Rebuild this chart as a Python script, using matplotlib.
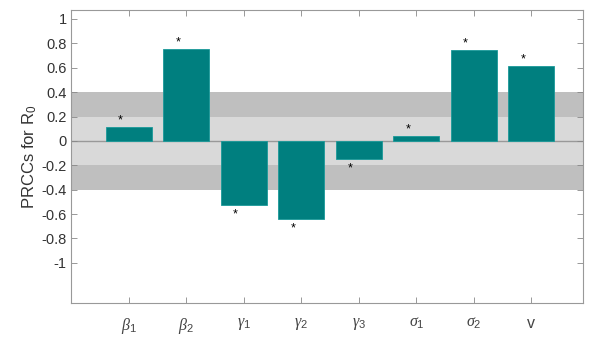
import matplotlib
matplotlib.use("Agg")
import matplotlib.pyplot as plt

params = [r'$\beta_{1}$', r'$\beta_{2}$', r'$\gamma_{1}$', r'$\gamma_{2}$', r'$\gamma_{3}$', r'$\sigma_{1}$', r'$\sigma_{2}$', 'v']
prcc = [0.117, 0.754, -0.522, -0.642, -0.145, 0.04, 0.743, 0.617]
significant = [True, True, True, True, True, True, True, True]
yticks = [-1, -0.8, -0.6, -0.4, -0.2, 0, 0.2, 0.4, 0.6, 0.8, 1]
ytick_labels = ['-1', '-0.8', '-0.6', '-0.4', '-0.2', '0', '0.2', '0.4', '0.6', '0.8', '1']

plt.rcParams['font.family'] = ['Liberation Sans', 'DejaVu Sans']
plt.rcParams['mathtext.fontset'] = 'custom'
plt.rcParams['mathtext.rm'] = 'Liberation Sans'
plt.rcParams['mathtext.it'] = 'Liberation Serif:italic'
plt.rcParams['mathtext.bf'] = 'Liberation Sans:bold'

fig = plt.figure(figsize=(5.95, 3.41), dpi=100)
ax = fig.add_axes([0.12, 0.111, 0.86, 0.86])

x = list(range(1, len(params) + 1))
ax.axhspan(-0.4, -0.2, color='#bfbfbf', zorder=0, lw=0)
ax.axhspan(0.2, 0.4, color='#bfbfbf', zorder=0, lw=0)
ax.axhspan(-0.2, 0.2, color='#d9d9d9', zorder=0, lw=0)
ax.axhline(0, color='#999999', lw=1, zorder=1)

ax.bar(x, prcc, width=0.8, color='#007f7f', edgecolor='#1a9a9a', lw=0.6, zorder=2)
for xi, v, s in zip(x, prcc, significant):
    if s:
        if v >= 0:
            ax.text(xi - 0.15, v + 0.005, '*', ha='center', va='bottom', fontsize=9, zorder=3)
        else:
            ax.text(xi - 0.15, v - 0.03, '*', ha='center', va='top', fontsize=9, zorder=3)

ax.set_xlim(0, 8.9)
ax.set_ylim(-1.33, 1.074)
ax.set_xticks(x)
ax.set_xticklabels(params, fontsize=11.5, color='#444444')
ax.set_yticks(yticks)
ax.set_yticklabels(ytick_labels, fontsize=10.5, color='#333333')
ax.tick_params(direction='in', top=True, right=True, length=4, color='#888888', width=0.6)
ax.tick_params(axis='x', pad=9)
for sp in ax.spines.values():
    sp.set_color('#999999')
    sp.set_linewidth(0.8)
ax.set_ylabel(r'PRCCs for R$_{\mathrm{0}}$', fontsize=12, color='#333333', labelpad=2)

fig.savefig('out.png', dpi=100)
